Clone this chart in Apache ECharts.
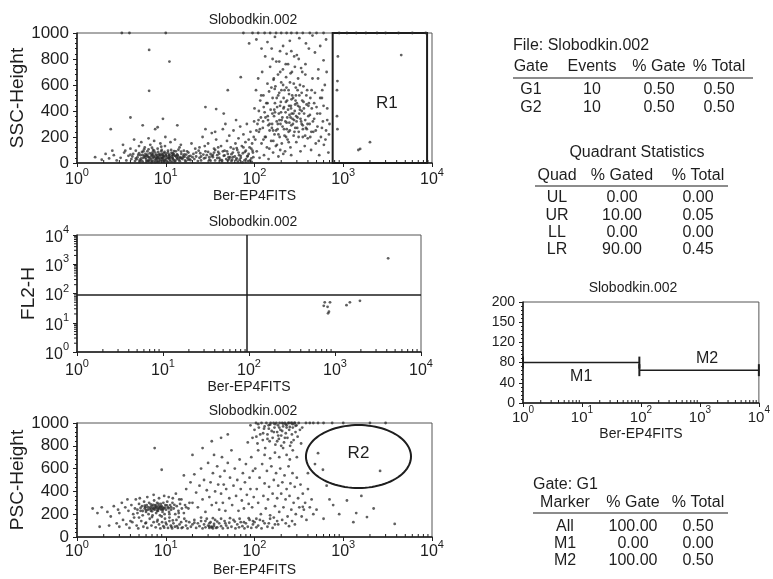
<!DOCTYPE html>
<html>
<head>
<meta charset="utf-8">
<script src="https://cdn.jsdelivr.net/npm/echarts@6/dist/echarts.min.js"></script>
<style>
  html, body { margin: 0; padding: 0; background: #fff; }
  #chart { width: 773px; height: 579px; }
</style>
</head>
<body>
<div id="chart"></div>
<script>
// ---- values ----
var fileName = 'Slobodkin.002';
var xName = 'Ber-EP4FITS';
var yNames = ['SSC-Height', 'FL2-H', 'PSC-Height'];

// SSC-Height vs Ber-EP4FITS  [x, y]
var sscLow = [[3.1,40],[3.4,80],[3.6,20],[3.8,55],[4.0,110],[4.1,30],[4.3,70],[4.5,15],[4.6,95],[4.8,45],
  [5.0,130],[5.1,25],[5.2,60],[5.4,85],[5.5,10],[5.6,40],[5.8,120],[5.9,70],[6.0,30],[6.1,55],
  [6.2,90],[6.3,15],[6.5,45],[6.6,75],[6.7,140],[6.8,25],[7.0,60],[7.1,35],[7.2,100],[7.3,50],
  [7.5,20],[7.6,80],[7.7,40],[7.9,65],[8.0,10],[8.1,110],[8.2,45],[8.4,30],[8.5,70],[8.6,55],
  [8.8,20],[8.9,90],[9.0,40],[9.2,60],[9.3,25],[9.5,75],[9.6,45],[9.8,130],[10,30],[10.2,55],
  [10.4,15],[10.6,80],[10.8,40],[11,65],[11.2,25],[11.5,100],[11.7,50],[12,35],[12.3,70],[12.5,20],
  [12.8,55],[13,90],[13.3,40],[13.6,60],[14,25],[14.3,120],[14.6,45],[15,70],[15.4,30],[15.8,55],
  [16,95],[16.5,20],[17,65],[17.5,40],[18,80],[18.5,30],[19,55],[19.5,150],[20,45],[2.3,35],
  [2.6,60],[2.8,20],[2.5,95],[3.3,140],[4.4,180],[5.3,160],[6.4,190],[7.4,170],[8.7,150],[9.9,200],
  [11.3,160],[12.7,180],[14.8,140],[6.9,5],[8.3,8],[9.4,12],[10.5,5],[11.8,10],[7.8,28],[5.7,50],
  [6.2,65],[7.1,82],[8.0,48],[9.1,38],[10.1,72],[11.1,46],[12.2,58],[13.5,32],[4.9,62],[1.6,45],
  [1.9,25],[2.1,70],[5.3,35],[6.4,22],[7.4,44],[8.6,36],[9.7,22],[10.9,50],[12.1,28],[13.8,48],
  [4.7,28],[5.9,42],[6.9,52],[8.3,62],[9.3,52],[10.7,34],[11.9,62],[14.5,36],[16.3,48],[17.8,25]];
var sscBand = [[4.2,50],[4.6,35],[5.0,75],[5.3,20],[5.6,90],[5.9,55],[6.1,15],[6.4,105],[6.6,35],[6.9,70],
  [7.1,12],[7.4,95],[7.7,58],[7.9,30],[8.2,85],[8.5,15],[8.7,62],[9.0,100],[9.2,35],[9.5,55],
  [9.7,85],[9.9,18],[10.3,42],[10.6,95],[10.9,62],[11.2,12],[11.6,78],[11.9,40],[12.4,92],[12.9,18],
  [13.4,66],[13.9,102],[14.4,14],[14.9,88],[15.6,42],[16.2,66],[16.8,12],[17.4,90],[18.2,50],[19,22],
  [20.5,70],[22,50],[23.5,95],[25,20],[26.5,65],[28,40],[30,85],[32,18],[34,62],[36,100],
  [38,38],[40,72],[43,22],[46,58],[49,90],[52,30],[55,68],[58,108],[62,25],[66,80],[70,55],
  [75,120],[80,30],[86,70],[92,110],[97,45],[5.5,62],[6.3,48],[7.2,66],[8.1,40],[9.1,70],
  [10,58],[11,36],[12,75],[13,52],[15,38],[5.1,8],[6.5,12],[7.6,6],[9.6,8],[12.6,6],
  [21.5,110],[24.5,75],[27.5,130],[31,45],[35,80],[39,120],[44,90],[50,20],[57,45],[63,115],
  [68,25],[78,85],[83,50],[89,20],[95,95],[3.5,95],[4.0,65],[5.7,105],[7.0,118],[8.9,125]];
var sscMid = [[21,30],[22,80],[23,15],[24,120],[25,50],[26,200],[27,35],[28,90],[29,60],[30,150],
  [31,25],[32,70],[33,230],[34,45],[35,110],[36,20],[37,180],[38,60],[39,85],[40,40],
  [42,130],[43,10],[44,260],[45,55],[46,95],[48,30],[49,170],[50,70],[52,210],[53,45],
  [54,120],[56,25],[57,80],[58,250],[60,50],[61,150],[63,35],[64,100],[66,190],[67,60],
  [69,280],[70,40],[72,130],[74,75],[75,220],[77,20],[79,160],[80,95],[82,300],[84,55],
  [86,180],[88,120],[90,240],[92,35],[94,150],[96,80],[98,200],[99,320],[62,330],[47,300],
  [36,240],[28,260],[55,15],[65,10],[73,5],[85,15],[93,8],[24,40],[33,55],[41,25],[51,45]];
var sscCloud = [[100,420],[102,180],[104,560],[106,90],[108,300],[110,650],[112,240],[114,40],[116,480],[118,350],
  [120,150],[122,700],[124,270],[126,520],[128,60],[130,390],[132,820],[134,200],[136,460],[138,120],
  [140,610],[142,330],[144,30],[146,550],[148,250],[150,740],[152,410],[154,170],[156,880],[158,300],
  [160,500],[162,80],[164,640],[166,360],[168,220],[170,460],[172,590],[174,130],[176,780],[178,320],
  [180,430],[182,260],[184,680],[186,50],[188,380],[190,540],[192,200],[194,860],[196,300],[198,470],
  [200,620],[203,150],[206,350],[209,720],[212,420],[215,260],[218,560],[221,90],[224,390],[227,660],
  [230,310],[233,480],[236,180],[239,760],[242,240],[245,530],[248,370],[251,620],[254,120],[257,440],
  [260,290],[264,700],[268,340],[272,500],[276,210],[280,820],[284,400],[288,270],[292,580],[296,160],
  [300,460],[305,350],[310,650],[315,240],[320,520],[325,410],[330,90],[335,730],[340,300],[345,480],
  [350,200],[356,590],[362,380],[368,130],[374,680],[380,270],[386,450],[392,560],[398,190],[404,360],
  [410,880],[418,300],[426,500],[434,100],[442,420],[450,650],[460,240],[470,340],[480,540],[490,150],
  [500,430],[512,280],[524,720],[536,60],[548,380],[560,200],[575,500],[590,320],[605,140],[620,600],
  [640,250],[660,420],[680,80],[700,300],[111,330],[127,430],[143,290],[159,380],[175,250],[191,330],
  [207,280],[223,320],[239,410],[255,350],[271,300],[287,450],[303,270],[319,380],[335,320],[351,260],
  [183,300],[167,410],[199,390],[215,430],[231,260],[247,310],[263,380],[279,330],[295,360],[157,270],
  [141,360],[125,320],[213,500],[229,580],[245,440],[261,490],[185,520],[169,570],[201,560],[277,610],
  [293,520],[309,440],[325,600],[341,400],[357,470],[373,330],[389,260],[405,440],[421,370],[437,240],
  [115,260],[131,200],[147,110],[163,170],[179,140],[195,100],[211,70],[227,200],[243,160],[259,60]];
var sscCloud2 = [[105,250],[112,400],[119,520],[126,180],[133,350],[140,460],[148,300],[155,580],[162,250],[170,390],
  [178,500],[186,220],[194,440],[202,330],[210,600],[218,210],[226,470],[234,350],[242,560],[250,250],
  [258,420],[266,520],[274,380],[282,240],[290,480],[298,320],[306,560],[314,200],[322,430],[330,340],
  [340,540],[350,290],[360,420],[372,210],[384,520],[396,300],[410,460],[425,200],[440,560],[455,320],
  [470,460],[490,250],[510,380],[530,170],[550,500],[575,270],[600,440],[630,180],[660,330],[690,220],
  [165,650],[195,700],[225,760],[255,690],[285,740],[315,800],[345,700],[375,760],[230,840],[160,800]];
var sscUpper = [[105,950],[140,930],[170,970],[210,900],[250,940],[320,960],[380,920],[450,980],[550,900],
  [640,950],[120,880],[260,860],[480,850],[600,790],[520,650],[580,560],[650,700],[190,780],[300,830]];
var sscEdge = [[3.2,1000],[3.9,1000],[10,1000],[75,1000],[95,1000],[110,1000],[130,1000],[150,1000],
  [175,1000],[200,1000],[230,1000],[260,1000],[300,1000],[350,1000],[420,1000],[500,1000],[600,1000],
  [900,1000],[1100,1000],[1400,1000],[1800,1000],[2400,1000],[3000,1000],[4200,1000],[6000,1000],[8500,1000]];
var sscSparse = [[6.5,870],[11,780],[6.5,555],[4,350],[9.3,340],[5.5,290],[2.4,260],[7.6,260],[8.1,275],
  [13.5,290],[28,430],[37,415],[50,560],[70,660],[87,920],[45,380]];
var sscR1 = [[870,820],[860,630],[850,560],[850,360],[860,260],[1480,100],[1550,108],[2000,160],[4500,830]];

// FL2-H vs Ber-EP4FITS  [x, y]
var fl2 = [[760,50],[875,50],[740,38],[820,35],[850,24],[830,21],[1360,40],[1490,50],[1950,56],[4150,1600]];
var quadCut = [95, 90];

// PSC-Height vs Ber-EP4FITS  [x, y]
var pscCore = [[4.5,250],[4.8,210],[5.0,290],[5.2,230],[5.4,270],[5.5,190],[5.7,310],[5.8,250],[6.0,220],[6.1,280],
  [6.3,240],[6.4,200],[6.5,300],[6.7,260],[6.8,230],[7.0,270],[7.1,190],[7.2,250],[7.4,320],[7.5,240],
  [7.6,280],[7.8,210],[7.9,260],[8.0,300],[8.2,230],[8.3,270],[8.5,250],[8.6,190],[8.8,290],[8.9,240],
  [9.0,270],[9.2,220],[9.4,300],[9.5,250],[9.7,200],[9.9,280],[10.1,240],[10.4,310],[10.6,260],[10.9,220],
  [11.2,280],[11.5,240],[11.9,300],[12.3,250],[12.8,200],[13.3,270],[13.9,230],[14.5,290],[15.2,250],[16,210],
  [3.5,260],[3.8,230],[4.1,280],[4.3,200],[3.2,300],[2.9,240],[2.6,270],[2.2,220],[1.9,260],[1.5,250],
  [6.2,350],[7.3,370],[8.4,340],[9.6,360],[5.1,340],[10.8,350],[12,340],[4.6,330],[1.7,210],[2.4,180],
  [5.9,262],[6.6,245],[7.2,282],[7.7,255],[8.1,242],[8.7,268],[9.3,258],[6.9,248],[7.5,262],[8.3,252],
  [5.2,255],[5.8,275],[6.3,262],[6.8,285],[7.3,245],[7.8,275],[8.3,290],[8.8,262],[9.3,238],[9.8,258],
  [10.3,278],[10.8,252],[6.0,235],[7.0,225],[8.0,228],[9.0,246],[11.5,262],[12.5,282],[4.8,240],[5.5,228],
  [17,260],[18.5,300],[14.2,330],[16.5,280],[3.0,210],[3.7,330]];
var pscBase = [[3.0,90],[3.3,150],[3.6,110],[3.9,80],[4.2,130],[4.4,170],[4.7,100],[4.9,75],[5.3,140],[5.6,90],
  [5.9,120],[6.2,80],[6.6,160],[6.9,100],[7.3,130],[7.7,85],[8.1,150],[8.4,110],[8.7,75],[9.1,130],
  [9.4,95],[9.8,160],[10.2,110],[10.6,80],[11,140],[11.4,100],[11.8,75],[12.2,120],[12.7,90],[13.2,150],
  [13.7,80],[14.3,110],[14.9,130],[15.5,85],[16.2,160],[16.9,100],[17.6,75],[18.4,130],[19.2,90],[20,110],
  [21,150],[22,80],[23,120],[24,95],[25,140],[26,75],[27,110],[28,85],[29,160],[30,100],
  [31,80],[32,130],[33,90],[34,75],[35,115],[36,150],[38,85],[40,120],[42,95],[44,75],
  [46,140],[48,100],[50,80],[52,125],[55,90],[58,150],[61,75],[64,110],[67,85],[70,130],
  [73,95],[77,75],[80,120],[84,90],[88,150],[92,80],[96,110],[100,130],[105,85],[110,100],
  [115,150],[120,75],[130,120],[140,90],[150,160],[160,80],[170,110],[180,140],[2.8,120],[2.3,100],[1.8,90],
  [9.6,82],[11.6,88],[13.4,96],[15.1,78],[31,92],[33,84],[35,96],[37,80],
  [4.0,140],[5.0,170],[6.0,125],[7.0,175],[8.0,135],[9.0,180],[10,125],[11,170],[12,145],[14,175],
  [17,140],[21,125],[25,170],[28,140],[31,120],[34,165],[38,135],[42,160],[47,120],[53,165],
  [60,135],[68,160],[76,130],[86,165],[96,140]];
var pscRise = [[13,380],[15,330],[17,420],[18,250],[19,480],[20,300],[21,550],[22,390],[23,260],[24,450],
  [25,600],[26,330],[27,500],[28,220],[29,410],[30,650],[31,350],[32,480],[33,280],[34,560],
  [35,720],[36,400],[37,300],[38,620],[39,460],[40,240],[41,530],[42,380],[43,700],[44,300],
  [45,460],[46,580],[47,230],[48,420],[50,650],[52,340],[53,520],[55,760],[56,280],[58,450],
  [60,600],[62,360],[64,500],[66,230],[68,680],[70,420],[72,320],[74,560],[76,250],[78,480],
  [80,640],[82,370],[84,830],[86,290],[88,520],[90,420],[92,700],[94,260],[96,580],[98,350],
  [7.5,780],[9,590],[16,540],[20,720],[26,780],[33,840],[42,870],[50,900],[14,210],[11,200]];
var pscTop = [[90,980],[95,870],[100,940],[104,1000],[108,820],[112,960],[116,900],[120,1000],[124,850],[128,950],
  [132,780],[136,1000],[140,900],[144,980],[148,840],[152,1000],[156,930],[160,870],[164,1000],[168,960],
  [172,810],[176,1000],[180,920],[184,980],[188,860],[192,1000],[196,940],[200,890],[205,1000],[210,970],
  [215,830],[220,1000],[225,910],[230,960],[235,870],[240,1000],[246,940],[252,800],[258,1000],[264,900],
  [270,960],[276,850],[282,1000],[290,920],[298,980],[306,880],[315,1000],[325,940],[335,820],[345,960],
  [110,760],[130,720],[150,690],[170,740],[190,700],[210,780],[230,720],[250,680],[270,760],[300,700],
  [105,880],[125,910],[145,950],[165,920],[185,890],[205,930],[225,990],[245,1000],[265,1000],[285,1000],
  [380,1000],[420,1000],[460,1000],[520,1000],[600,1000],[750,1000],[1000,1000],[2000,1000],[3000,1000],
  [110,990],[130,970],[150,985],[170,990],[190,960],[210,995],[230,980],[250,965],[270,990],[290,975],
  [140,860],[180,840],[220,870],[260,830],[200,800]];
var pscCloud = [[102,600],[106,420],[110,300],[114,520],[118,200],[122,640],[126,360],[130,470],[134,250],[138,580],
  [142,330],[146,440],[150,190],[155,620],[160,380],[165,500],[170,270],[175,560],[180,340],[185,450],
  [190,220],[195,600],[200,380],[206,480],[212,260],[218,540],[224,330],[230,420],[236,180],[242,620],
  [248,360],[254,470],[260,240],[268,560],[276,300],[284,440],[292,200],[300,520],[310,340],[320,260],
  [330,460],[340,180],[350,380],[360,240],[372,300],[385,150],[400,420],[420,260],[440,330],[460,200],
  [105,160],[125,140],[145,120],[165,170],[185,110],[205,150],[225,120],[245,95],[265,140],[285,110]];
var pscSparse = [[520,735],[590,590],[770,280],[1400,210],[1850,175],[1300,130],[3800,115],[2600,580],
  [500,240],[350,265],[600,160],[700,330],[480,640],[400,560],[650,450],[900,200],[1100,320],[1600,360],
  [2200,250]];

// gates
var gateR1 = [760, 0, 8800, 1000];               // x from, y from, x to, y to
var gateR2 = [1480, 706, 380, 5800, 430, 982];   // centre x, centre y, x left, x right, y bottom, y top

// histogram markers [x from, x to, level]
var markers = [[1, 94, 80], [94, 10000, 65]];
var markerNames = ['M1', 'M2'];
var histTicks = [0, 40, 80, 120, 160, 200];
var histTickLabels = ['0', '40', '80', '120', '150', '200'];

// statistics tables
var gateHeader = ['Gate', 'Events', '% Gate', '% Total'];
var gateRows = [['G1', '10', '0.50', '0.50'], ['G2', '10', '0.50', '0.50']];
var quadHeader = ['Quad', '% Gated', '% Total'];
var quadRows = [['UL', '0.00', '0.00'], ['UR', '10.00', '0.05'], ['LL', '0.00', '0.00'], ['LR', '90.00', '0.45']];
var markerHeader = ['Marker', '% Gate', '% Total'];
var markerRows = [['All', '100.00', '0.50'], ['M1', '0.00', '0.00'], ['M2', '100.00', '0.50']];

// ---- chart ----
var FONT = '"Liberation Sans", Arial, Helvetica, sans-serif';
var INK = '#1e1e1e';
var chart = echarts.init(document.getElementById('chart'));

function pow10(v) {
  return '{b|10}{s|' + Math.round(Math.log(v) / Math.LN10) + '}';
}
function powRich(base, sup) {
  return {
    b: { fontSize: base, fontFamily: FONT, color: INK, lineHeight: base + 5, verticalAlign: 'bottom' },
    s: { fontSize: sup, fontFamily: FONT, color: INK, verticalAlign: 'top' }
  };
}

var grids = [
  { left: 77, top: 33, width: 355, height: 130 },
  { left: 77, top: 235, width: 344, height: 117 },
  { left: 77, top: 423, width: 355, height: 114 },
  { left: 523, top: 302, width: 240, height: 101 }
];
grids.forEach(function (g) { g.show = true; g.borderColor = '#555'; g.borderWidth = 1; });

function logX(gi, margin, base, sup, gap) {
  return {
    type: 'log', logBase: 10, min: 1, max: 10000, gridIndex: gi,
    axisLine: { lineStyle: { color: INK, width: 1.5 } },
    axisTick: { length: 4, lineStyle: { color: INK } },
    splitLine: { show: false },
    axisLabel: { formatter: pow10, rich: powRich(base, sup), margin: margin },
    name: xName, nameLocation: 'middle', nameGap: gap,
    nameTextStyle: { fontSize: 14, fontFamily: FONT, color: INK }
  };
}
function linY(gi, max, step, name, size) {
  return {
    type: 'value', min: 0, max: max, interval: step, gridIndex: gi,
    axisLine: { show: true, lineStyle: { color: INK, width: 1.5 } },
    axisTick: { show: true, length: 4, lineStyle: { color: INK } },
    minorTick: { show: true, splitNumber: 5, length: 2, lineStyle: { color: INK } },
    splitLine: { show: false },
    axisLabel: { fontSize: size, fontFamily: FONT, color: INK, margin: 8,
      formatter: function (v) { return String(v); } },
    name: name, nameLocation: 'middle', nameGap: 39,
    nameTextStyle: { fontSize: 19, fontFamily: FONT, color: INK }
  };
}

var yAxes = [
  linY(0, 1000, 200, yNames[0], 17),
  {
    type: 'log', logBase: 10, min: 1, max: 10000, gridIndex: 1,
    axisLine: { show: true, lineStyle: { color: INK, width: 1.5 } },
    axisTick: { show: true, length: 4, lineStyle: { color: INK } },
    splitLine: { show: false },
    axisLabel: { formatter: pow10, rich: powRich(16, 11), margin: 8 },
    name: yNames[1], nameLocation: 'middle', nameGap: 39,
    nameTextStyle: { fontSize: 19, fontFamily: FONT, color: INK }
  },
  linY(2, 1000, 200, yNames[2], 17),
  linY(3, 200, 40, '', 14)
];
yAxes[3].axisLabel.formatter = function (v) { return histTickLabels[histTicks.indexOf(v)]; };

var dot = { color: '#2b2b2b', opacity: 0.75 };
function scatter(gi, data) {
  return {
    type: 'scatter', xAxisIndex: gi, yAxisIndex: gi, data: data,
    symbol: 'circle', symbolSize: 2.8, itemStyle: dot, silent: true, animation: false
  };
}

// log-decade minor tick values 2..9 (axis decoration)
var minorLog = [];
for (var d = 0; d < 4; d++) for (var m = 2; m < 10; m++) minorLog.push(m * Math.pow(10, d));
function minorTicksX(gi, yMin) {
  return {
    type: 'custom', xAxisIndex: gi, yAxisIndex: gi, silent: true, animation: false,
    data: minorLog.map(function (v) { return [v, yMin]; }),
    renderItem: function (p, api) {
      var c = api.coord([api.value(0), api.value(1)]);
      return { type: 'line', shape: { x1: c[0], y1: c[1], x2: c[0], y2: c[1] - 3 },
        style: { stroke: INK, lineWidth: 1 } };
    }
  };
}
function minorTicksY(gi) {
  return {
    type: 'custom', xAxisIndex: gi, yAxisIndex: gi, silent: true, animation: false,
    data: minorLog.map(function (v) { return [1, v]; }),
    renderItem: function (p, api) {
      var c = api.coord([api.value(0), api.value(1)]);
      return { type: 'line', shape: { x1: c[0], y1: c[1], x2: c[0] - 3, y2: c[1] },
        style: { stroke: INK, lineWidth: 1 } };
    }
  };
}

var textStyle = function (txt, size, align) {
  return { text: txt, fill: INK, font: size + 'px ' + FONT,
    align: align, textAlign: align, verticalAlign: 'middle', textVerticalAlign: 'middle' };
};

var series = [
  scatter(0, [].concat(sscLow, sscBand, sscMid, sscCloud, sscCloud2, sscUpper, sscEdge, sscSparse, sscR1)),
  {
    type: 'custom', xAxisIndex: 0, yAxisIndex: 0, silent: true, animation: false,
    data: [gateR1],
    renderItem: function (p, api) {
      var a = api.coord([api.value(0), api.value(1)]);
      var b = api.coord([api.value(2), api.value(3)]);
      var mid = api.coord([Math.sqrt(api.value(0) * api.value(2)) * 1.2, 460]);
      return { type: 'group', children: [
        { type: 'rect', shape: { x: a[0], y: b[1], width: b[0] - a[0], height: a[1] - b[1] },
          style: { fill: 'none', stroke: INK, lineWidth: 2 } },
        { type: 'text', x: mid[0], y: mid[1], style: textStyle('R1', 17, 'center') }
      ] };
    }
  },
  (function () {
    var s = scatter(1, fl2);
    s.markLine = {
      silent: true, symbol: 'none', animation: false, label: { show: false },
      lineStyle: { color: INK, width: 1.5, type: 'solid' },
      data: [{ xAxis: quadCut[0] }, { yAxis: quadCut[1] }]
    };
    return s;
  })(),
  scatter(2, [].concat(pscCore, pscBase, pscRise, pscTop, pscCloud, pscSparse)),
  {
    type: 'custom', xAxisIndex: 2, yAxisIndex: 2, silent: true, animation: false,
    data: [gateR2],
    renderItem: function (p, api) {
      var l = api.coord([api.value(2), api.value(1)])[0];
      var r = api.coord([api.value(3), api.value(1)])[0];
      var b = api.coord([api.value(0), api.value(4)])[1];
      var t = api.coord([api.value(0), api.value(5)])[1];
      var cx = (l + r) / 2, cy = (t + b) / 2, rx = (r - l) / 2, ry = (b - t) / 2;
      var pts = [];
      for (var i = 0; i < 96; i++) {
        var a = i / 96 * Math.PI * 2;
        pts.push([cx + rx * Math.cos(a), cy + ry * Math.sin(a)]);
      }
      return { type: 'group', children: [
        { type: 'polygon', shape: { points: pts }, style: { fill: 'none', stroke: INK, lineWidth: 2 } },
        { type: 'text', x: cx, y: cy - 3, style: textStyle('R2', 17, 'center') }
      ] };
    }
  },
  {
    type: 'custom', xAxisIndex: 3, yAxisIndex: 3, silent: true, animation: false,
    encode: { x: [0, 1], y: 2 },
    data: markers,
    renderItem: function (p, api) {
      var a = api.coord([api.value(0), api.value(2)]);
      var b = api.coord([api.value(1), api.value(2)]);
      var m = api.coord([Math.sqrt(api.value(0) * api.value(1)), api.value(2)]);
      var dy = p.dataIndex === 0 ? 14 : -12;
      return { type: 'group', children: [
        { type: 'line', shape: { x1: a[0], y1: a[1], x2: b[0], y2: b[1] }, style: { stroke: INK, lineWidth: 1.5 } },
        { type: 'line', shape: { x1: a[0], y1: a[1] - 6, x2: a[0], y2: a[1] + 6 }, style: { stroke: INK, lineWidth: 2 } },
        { type: 'line', shape: { x1: b[0], y1: b[1] - 6, x2: b[0], y2: b[1] + 6 }, style: { stroke: INK, lineWidth: 2 } },
        { type: 'text', x: m[0] + (p.dataIndex === 1 ? 8 : 0), y: m[1] + dy, style: textStyle(markerNames[p.dataIndex], 16, 'center') }
      ] };
    }
  },
  minorTicksX(0, 0),
  minorTicksX(1, 1),
  minorTicksX(2, 0),
  minorTicksX(3, 0),
  minorTicksY(1)
];

// ---- titles and statistics tables ----
var graphics = [];
function addText(txt, x, y, size, align) {
  graphics.push({ type: 'text', x: x, y: y, silent: true, style: textStyle(txt, size, align) });
}
function addRule(x1, x2, y) {
  graphics.push({ type: 'line', silent: true, shape: { x1: x1, y1: y, x2: x2, y2: y },
    style: { stroke: '#666', lineWidth: 1.5 } });
}
function addTable(header, rows, cols, yHead, yRow0, dy, size) {
  header.forEach(function (h, i) { addText(h, cols[i], yHead, size, 'center'); });
  rows.forEach(function (r, j) {
    r.forEach(function (c, i) { addText(c, cols[i], yRow0 + j * dy, size, 'center'); });
  });
}

[[253, 20], [253, 222], [253, 411], [633, 288]].forEach(function (t) {
  addText(fileName, t[0], t[1], 14, 'center');
});

addText('File: ' + fileName, 513, 46, 16, 'left');
addTable(gateHeader, gateRows, [531, 592, 659, 719], 67, 90, 18, 16);
addRule(513, 753, 78);

addText('Quadrant Statistics', 637, 153, 16, 'center');
addTable(quadHeader, quadRows, [557, 622, 698], 176, 198, 17.3, 16);
addRule(535, 728, 186);

addText('Gate: G1', 533, 485, 16, 'left');
addTable(markerHeader, markerRows, [565, 633, 698], 503, 527, 17, 16);
addRule(533, 728, 513);

chart.setOption({
  animation: false,
  textStyle: { fontFamily: FONT },
  grid: grids,
  xAxis: [logX(0, 4, 16, 11, 26), logX(1, 6, 16, 11, 25), logX(2, 2, 16, 11, 26), logX(3, 2, 15, 10, 24)],
  yAxis: yAxes,
  series: series,
  graphic: graphics
});
</script>
</body>
</html>
